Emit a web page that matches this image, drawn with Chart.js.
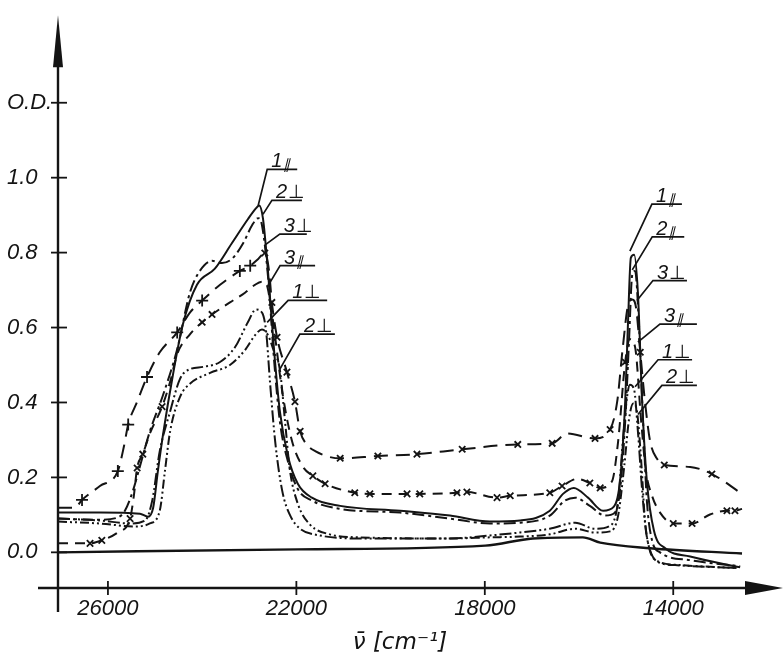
<!DOCTYPE html>
<html>
<head>
<meta charset="utf-8">
<script src="https://cdn.jsdelivr.net/npm/chart.js@4.4.0/dist/chart.umd.min.js"></script>
<style>
  html, body { margin: 0; padding: 0; background: #fff; }
</style>
</head>
<body>
<canvas id="chart" width="784" height="663"></canvas>
<script>
// wavenumber (cm-1) and optical density
const xTicks = [26000, 22000, 18000, 14000];
const yTicks = [0, 0.2, 0.4, 0.6, 0.8, 1.0, 1.2];

// 1|| solid
const wnA = [27060, 26170, 25320, 25150, 25040, 24940, 24830, 24620, 24410, 24110, 23730, 23370, 23030, 22860, 22790,
  22710, 22600, 22470, 22350, 22180, 21970, 21670, 21070, 19800, 18740, 17890, 17250, 16620, 16340, 16110,
  15810, 15490, 15260, 15130, 15020, 14960, 14900, 14830, 14750, 14660, 14560, 14410, 14170, 13640, 12580];
const odA = [0.106, 0.106, 0.103, 0.095, 0.119, 0.217, 0.315, 0.474, 0.608, 0.714, 0.757, 0.825, 0.889, 0.918, 0.926,
  0.892, 0.746, 0.534, 0.376, 0.257, 0.183, 0.146, 0.124, 0.111, 0.098, 0.082, 0.085, 0.111, 0.156, 0.172,
  0.146, 0.111, 0.122, 0.19, 0.402, 0.614, 0.786, 0.794, 0.693, 0.402, 0.19, 0.058, 0.011, -0.011, -0.04];

// 2 dash-dot
const wnB = [27060, 26170, 25790, 25640, 25470, 25320, 25110, 24830, 24530, 24260, 24050, 23790, 23580, 23370, 23130,
  22940, 22810, 22730, 22600, 22470, 22350, 22180, 21970, 21670, 21070, 19800, 18740, 17890, 17250, 16620,
  16300, 16080, 15770, 15450, 15240, 15130, 15020, 14940, 14870, 14810, 14730, 14640, 14560, 14450, 14280, 13640, 12580];
const odB = [0.09, 0.087, 0.093, 0.111, 0.164, 0.23, 0.323, 0.42, 0.542, 0.693, 0.751, 0.778, 0.772, 0.783, 0.825,
  0.873, 0.892, 0.873, 0.733, 0.508, 0.349, 0.243, 0.169, 0.138, 0.116, 0.106, 0.09, 0.077, 0.079, 0.098,
  0.138, 0.146, 0.124, 0.098, 0.106, 0.164, 0.349, 0.561, 0.741, 0.751, 0.614, 0.349, 0.138, 0.032, 0, -0.021, -0.037];

// 3 perpendicular, + / x marked
const wnC = [27060, 26700, 26550, 26170, 25790, 25660, 25570, 25380, 25170, 24900, 24530, 24260, 24000, 23620, 23200,
  22980, 22810, 22670, 22580, 22520, 22410, 22200, 22030, 21920, 21800, 21600, 21070, 20270, 19440, 18480,
  17300, 16570, 16250, 15660, 15340, 15190, 15070, 14960, 14870, 14790, 14700, 14600, 14490, 14340, 14190,
  13640, 13180, 12540];
const odC = [0.119, 0.119, 0.14, 0.177, 0.217, 0.283, 0.341, 0.402, 0.468, 0.534, 0.587, 0.64, 0.672, 0.714, 0.751,
  0.765, 0.783, 0.799, 0.751, 0.667, 0.574, 0.481, 0.402, 0.323, 0.291, 0.27, 0.251, 0.257, 0.262, 0.275,
  0.288, 0.291, 0.317, 0.304, 0.328, 0.402, 0.548, 0.659, 0.675, 0.653, 0.534, 0.402, 0.296, 0.249, 0.233,
  0.228, 0.209, 0.156];
const plusC = [2, 4, 6, 8, 10, 12, 14, 15];
const crossC = [17, 19, 20, 21, 22, 23, 26, 27, 28, 29, 30, 31, 33, 34, 40, 44, 46];

// 3 parallel, x marked
const wnD = [27060, 26380, 26130, 25790, 25530, 25450, 25380, 25260, 25110, 24850, 24680, 24530, 24260, 24000, 23790,
  23410, 23090, 22880, 22730, 22640, 22560, 22450, 22300, 22090, 21860, 21650, 21390, 20760, 20440, 19650,
  19380, 18590, 18380, 17740, 17460, 16620, 16360, 16040, 15770, 15550, 15300, 15170, 15020, 14920, 14810,
  14680, 14580, 14450, 14280, 14000, 13600, 13220, 12860, 12690, 12540];
const odD = [0.024, 0.024, 0.032, 0.053, 0.09, 0.151, 0.225, 0.262, 0.317, 0.389, 0.455, 0.529, 0.582, 0.614, 0.635,
  0.667, 0.693, 0.714, 0.722, 0.717, 0.672, 0.574, 0.429, 0.296, 0.228, 0.204, 0.183, 0.159, 0.156, 0.156,
  0.156, 0.159, 0.161, 0.146, 0.151, 0.159, 0.177, 0.196, 0.185, 0.172, 0.19, 0.296, 0.508, 0.569, 0.548,
  0.349, 0.217, 0.151, 0.106, 0.077, 0.077, 0.101, 0.111, 0.111, 0.116];
const crossD = [1, 2, 4, 6, 7, 9, 13, 14, 25, 26, 27, 28, 29, 30, 31, 32, 33, 34, 35, 36, 38, 39, 42, 49, 50, 52, 53];

// 1 perpendicular, dash-dot-dot
const wnE = [27060, 26170, 25530, 25210, 25060, 24900, 24680, 24470, 24260, 23980, 23620, 23300, 23030, 22860, 22730,
  22640, 22560, 22450, 22300, 22130, 21920, 21500, 20650, 18740, 17890, 17250, 16620, 16080, 15660, 15340,
  15170, 15070, 14980, 14920, 14830, 14750, 14660, 14580, 14490, 14320, 13960, 12650];
const odE = [0.09, 0.085, 0.077, 0.085, 0.138, 0.27, 0.376, 0.463, 0.489, 0.495, 0.508, 0.548, 0.614, 0.648, 0.64,
  0.587, 0.455, 0.296, 0.164, 0.098, 0.063, 0.045, 0.037, 0.037, 0.045, 0.053, 0.063, 0.079, 0.063, 0.071,
  0.138, 0.296, 0.415, 0.447, 0.434, 0.323, 0.164, 0.058, 0.005, -0.026, -0.034, -0.042];

// 2 perpendicular, dash-dot-dot
const wnF = [27060, 26170, 25430, 25110, 24900, 24790, 24680, 24470, 24260, 23830, 23410, 23090, 22880, 22730, 22600,
  22470, 22350, 22240, 22140, 21970, 21710, 21290, 20650, 18740, 17890, 17250, 16620, 16080, 15660, 15340,
  15170, 15040, 14940, 14850, 14770, 14680, 14600, 14510, 14370, 13850, 12650];
const odF = [0.082, 0.077, 0.069, 0.077, 0.111, 0.217, 0.323, 0.415, 0.45, 0.479, 0.5, 0.54, 0.579, 0.595, 0.579,
  0.534, 0.487, 0.349, 0.222, 0.13, 0.074, 0.048, 0.04, 0.037, 0.04, 0.042, 0.048, 0.063, 0.053, 0.056,
  0.098, 0.23, 0.354, 0.397, 0.376, 0.243, 0.085, 0.011, -0.021, -0.034, -0.042];

// base line
const wnG = [27060, 21970, 17990, 16980, 15920, 15550, 14490, 12540];
const odG = [0, 0.008, 0.018, 0.037, 0.04, 0.026, 0.011, -0.003];

// curve labels: text, point on the curve, leader offset (px) and underline length
const peakLabels = [
  { t: '1∥', wn: 22810, od: 0.926, dx: 9, dy: -36, len: 30 },
  { t: '2⊥', wn: 22710, od: 0.902, dx: 9, dy: -14, len: 30 },
  { t: '3⊥', wn: 22670, od: 0.82, dx: 15, dy: -11, len: 27 },
  { t: '3∥', wn: 22600, od: 0.712, dx: 12, dy: -20, len: 35 },
  { t: '1⊥', wn: 22620, od: 0.614, dx: 21, dy: -22, len: 39 },
  { t: '2⊥', wn: 22350, od: 0.489, dx: 20, dy: -35, len: 35 },
  { t: '1∥', wn: 14920, od: 0.804, dx: 22, dy: -47, len: 30 },
  { t: '2∥', wn: 14870, od: 0.754, dx: 20, dy: -33, len: 32 },
  { t: '3⊥', wn: 14770, od: 0.672, dx: 16, dy: -20, len: 34 },
  { t: '3∥', wn: 14750, od: 0.561, dx: 22, dy: -18, len: 37 },
  { t: '1⊥', wn: 14810, od: 0.442, dx: 23, dy: -27, len: 34 },
  { t: '2⊥', wn: 14750, od: 0.368, dx: 24, dy: -29, len: 35 }
];

const ink = '#141414';
const fontFam = "'Liberation Sans', Arial, sans-serif";

function pts(wn, od) {
  return wn.map((x, i) => ({ x: x, y: od[i] }));
}

function curve(wn, od, dash, extra) {
  return Object.assign({
    data: pts(wn, od),
    borderColor: ink,
    borderWidth: 2,
    borderDash: dash,
    pointRadius: 0,
    pointHoverRadius: 0,
    cubicInterpolationMode: 'monotone',
    tension: 0.3,
    fill: false
  }, extra || {});
}

function marked(plus, cross) {
  return {
    pointRadius: ctx => plus.includes(ctx.dataIndex) ? 6 : (cross.includes(ctx.dataIndex) ? 4.5 : 0),
    pointStyle: ctx => plus.includes(ctx.dataIndex) ? 'cross' : 'crossRot',
    pointBorderColor: ink,
    pointBackgroundColor: ink,
    pointBorderWidth: 1.8
  };
}

const drawing = {
  id: 'drawing',
  afterDraw(chart) {
    const c = chart.ctx;
    const xs = chart.scales.x;
    const ys = chart.scales.y;
    const area = chart.chartArea;
    const ax = area.left;
    const ay = area.bottom;
    c.save();
    c.strokeStyle = ink;
    c.fillStyle = ink;
    c.lineWidth = 2.4;
    c.setLineDash([]);

    // y axis with arrow
    c.beginPath();
    c.moveTo(ax, area.top + 40);
    c.lineTo(ax, ay + 24);
    c.stroke();
    c.beginPath();
    c.moveTo(ax, area.top + 2);
    c.lineTo(ax - 5, area.top + 54);
    c.lineTo(ax + 5, area.top + 54);
    c.closePath();
    c.fill();

    // x axis with arrow
    c.beginPath();
    c.moveTo(ax - 20, ay);
    c.lineTo(area.right - 30, ay);
    c.stroke();
    c.beginPath();
    c.moveTo(area.right, ay);
    c.lineTo(area.right - 38, ay - 7);
    c.lineTo(area.right - 38, ay + 7);
    c.closePath();
    c.fill();

    // tick crosses
    c.lineWidth = 1.8;
    yTicks.forEach(v => {
      const py = ys.getPixelForValue(v);
      c.beginPath();
      c.moveTo(ax - 7, py);
      c.lineTo(ax + 9, py);
      c.stroke();
    });
    xTicks.forEach(v => {
      const px = xs.getPixelForValue(v);
      c.beginPath();
      c.moveTo(px, ay - 7);
      c.lineTo(px, ay + 7);
      c.stroke();
    });

    // curve labels with leaders
    c.lineWidth = 1.7;
    peakLabels.forEach(l => {
      const px = xs.getPixelForValue(l.wn);
      const py = ys.getPixelForValue(l.od);
      const ex = px + l.dx;
      const ey = py + l.dy;
      c.beginPath();
      c.moveTo(px, py);
      c.lineTo(ex, ey);
      c.lineTo(ex + l.len, ey);
      c.stroke();
      c.textAlign = 'left';
      c.textBaseline = 'alphabetic';
      c.font = 'italic 20px ' + fontFam;
      const num = l.t[0];
      const sym = l.t.slice(1);
      c.fillText(num, ex + 4, ey - 2);
      const w = c.measureText(num).width;
      if (sym === '∥') {
        c.font = 'italic 14px ' + fontFam;
        c.fillText(sym, ex + 5 + w, ey);
      } else {
        c.font = '19px ' + fontFam;
        c.fillText(sym, ex + 5 + w, ey - 2);
      }
    });

    // axis title
    c.font = "italic 23px 'DejaVu Sans', sans-serif";
    c.textAlign = 'center';
    c.textBaseline = 'alphabetic';
    c.fillText('ν̄ [cm⁻¹]', 400, 649);
    c.restore();
  }
};

new Chart(document.getElementById('chart'), {
  type: 'line',
  data: {
    datasets: [
      curve(wnG, odG, [], { borderWidth: 2.4 }),
      curve(wnF, odF, [9, 3, 2, 3, 2, 3]),
      curve(wnE, odE, [12, 3, 2, 3, 2, 3]),
      curve(wnD, odD, [10, 7], marked([], crossD)),
      curve(wnC, odC, [14, 8], marked(plusC, crossC)),
      curve(wnB, odB, [12, 4, 3, 4]),
      curve(wnA, odA, [])
    ]
  },
  options: {
    responsive: false,
    animation: false,
    events: [],
    layout: { padding: { top: 8, right: 1, left: 7, bottom: 0 } },
    plugins: { legend: { display: false }, tooltip: { enabled: false } },
    scales: {
      x: {
        type: 'linear',
        reverse: true,
        min: 11670,
        max: 27060,
        grid: { display: false, drawTicks: false },
        border: { display: false },
        afterBuildTicks: s => { s.ticks = xTicks.map(v => ({ value: v })); },
        afterFit: s => { s.height = 75; },
        ticks: {
          autoSkip: false,
          maxRotation: 0,
          padding: 8,
          color: ink,
          font: { family: fontFam, size: 22, style: 'italic' },
          callback: v => String(v)
        }
      },
      y: {
        type: 'linear',
        min: -0.0952,
        max: 1.439,
        grid: { display: false, drawTicks: false },
        border: { display: false },
        afterBuildTicks: s => { s.ticks = yTicks.map(v => ({ value: v })); },
        afterFit: s => { s.width = 51; },
        ticks: {
          crossAlign: 'far',
          padding: 0,
          color: ink,
          font: { family: fontFam, size: 22, style: 'italic' },
          callback: v => Math.abs(v - 1.2) < 1e-6 ? 'O.D.' : v.toFixed(1)
        }
      }
    }
  },
  plugins: [drawing]
});
</script>
</body>
</html>
